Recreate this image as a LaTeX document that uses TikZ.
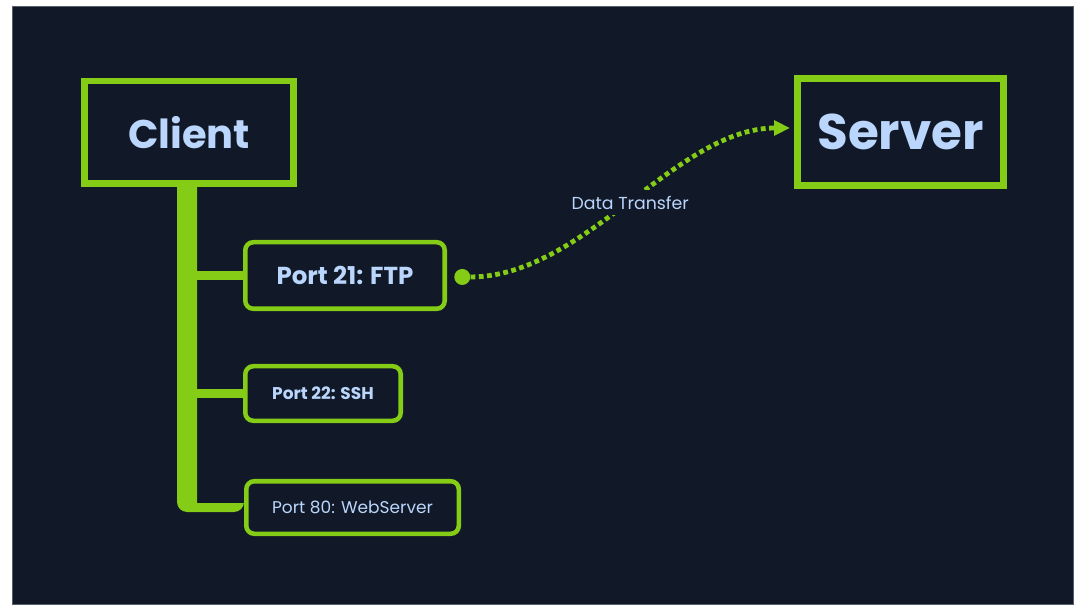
\documentclass[tikz,border=0pt]{standalone}
\usepackage{fontspec}
\setmainfont{Poppins}
\usepackage{tikz}
\usetikzlibrary{arrows.meta,positioning,calc}
\definecolor{netbg}{RGB}{17,24,39}
\definecolor{netgreen}{RGB}{132,204,22}
\definecolor{nettext}{RGB}{186,214,252}
\definecolor{netedge}{RGB}{88,94,106}

\begin{document}
\begin{tikzpicture}[
        x=0.75pt, y=-0.75pt,
        every node/.style={text=nettext},
        hostbox/.style={rectangle, draw=netgreen, line width=5pt, inner sep=0pt},
        portbox/.style={rectangle, draw=netgreen, line width=3.4pt, rounded corners=6pt, inner sep=0pt, anchor=west},
        plugdot/.style={circle, fill=netgreen, inner sep=0pt, minimum size=12pt},
        branch/.style={netgreen, line width=6.75pt},
        flow/.style={netgreen, line width=3.6pt, dash pattern=on 3.6pt off 2.6pt, -{Triangle[length=12pt, width=11pt]}},
        tag/.style={fill=netbg, inner sep=4pt, font=\fontsize{13}{15}\selectfont}
    ]
        \fill[white] (0,0) rectangle (1083,613);
        \useasboundingbox (0,0) rectangle (1083,613);
        \fill[netbg] (12,7) rectangle (1073,604);
        \draw[netedge, line width=0.75pt] (12,7) rectangle (1073,604);

        \node[hostbox, minimum width=157pt, minimum height=77pt, font=\fontsize{30}{36}\selectfont\bfseries] (client) at (189,132.5) {Client};
        \node[hostbox, minimum width=154.5pt, minimum height=80pt, line width=5.25pt, font=\fontsize{37.5}{44}\selectfont\bfseries] (server) at (900.5,132) {Server};

        \node[portbox, minimum width=149.6pt, minimum height=49.9pt, font=\fontsize{18.4}{22}\selectfont\bfseries] (ftp) at (243,275.5) {Port 21: FTP};
        \node[portbox, minimum width=116.6pt, minimum height=40.9pt, font=\fontsize{12.75}{15}\selectfont\bfseries] (ssh) at (243,393.5) {Port 22: SSH};
        \node[portbox, minimum width=159.4pt, minimum height=39.4pt, font=\fontsize{12.75}{15}\selectfont] (web) at (244,507.5) {Port 80: WebServer};

        % trunk down from the client
        \fill[netgreen] ($(client.south)+(-12,-3)$) [rounded corners=7.5pt] |- ($(web.west)+(0,4.5)$) [sharp corners] -- ($(web.west)+(0,-4.5)$) -| ($(client.south)+(8,-3)$) -- cycle;
        \draw[branch] ($(client.south)+(-2,0)$) |- (ftp.west);
        \draw[branch] ($(client.south)+(-2,0)$) |- (ssh.west);

        \node[plugdot, right=5.25pt of ftp, yshift=-1.1pt] (plug) {};
        \draw[flow] (plug) to[out=0, in=180, looseness=0.82] node[tag] {Data Transfer} ($(server.west)+(-4,-4)$);
    \end{tikzpicture}
\end{document}
